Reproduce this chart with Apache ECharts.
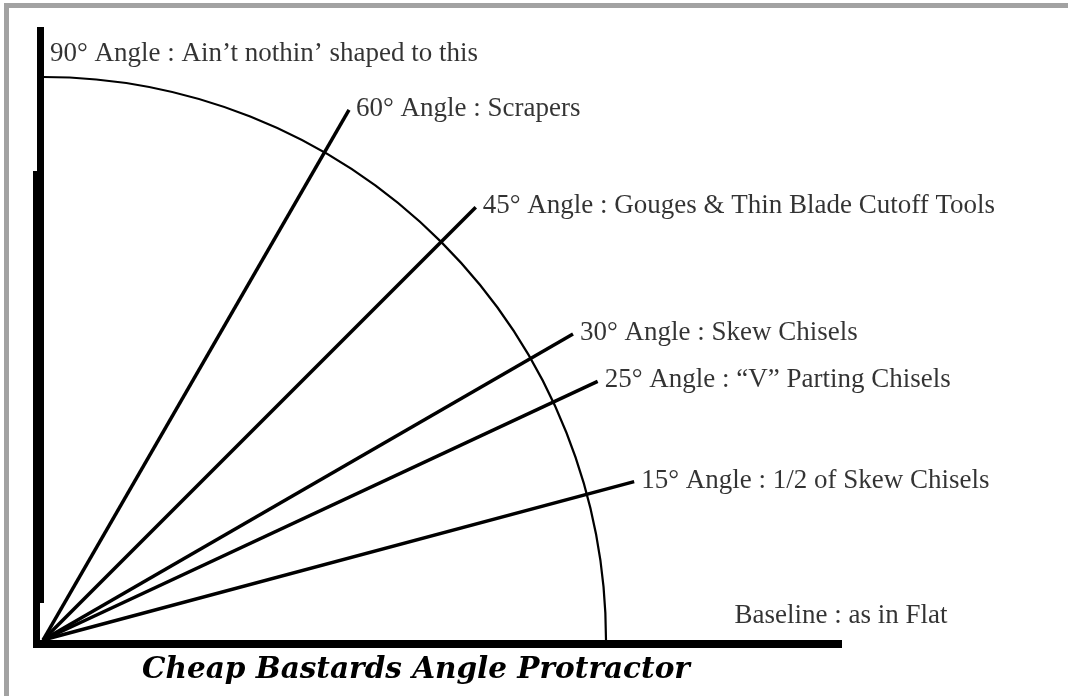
<!DOCTYPE html>
<html>
<head>
<meta charset="utf-8">
<script src="https://cdn.jsdelivr.net/npm/echarts@6/dist/echarts.min.js"></script>
<style>
  html, body { margin: 0; padding: 0; background: #fff; }
  #chart { width: 1068px; height: 696px; }
</style>
</head>
<body>
<div id="chart"></div>
<script>
// ---- data ----
const rayAngles = [60, 45, 30, 25, 15];
const rayReach = 612;
const rayLabels = [
  '60° Angle : Scrapers',
  '45° Angle : Gouges & Thin Blade Cutoff Tools',
  '30° Angle : Skew Chisels',
  '25° Angle : “V” Parting Chisels',
  '15° Angle : 1/2 of Skew Chisels'
];
const verticalAngle = 90;
const verticalLabel = '90° Angle : Ain’t nothin’ shaped to this';
const verticalLabelReach = 587;
const baselineAngle = 0;
const baselineLabel = 'Baseline : as in Flat';
const baselineLabelReach = 798;
const arcRadius = 563;
const arcSpan = [0, 90];
const titleText = 'Cheap Bastards Angle Protractor';

// ---- chart ----
const chart = echarts.init(document.getElementById('chart'), null, { renderer: 'canvas' });
const FONT = 'Liberation Serif';
const hiddenAxis = (extra) => Object.assign({
  type: 'value', min: 0, max: 1,
  axisTick: { show: false }, axisLabel: { show: false }, splitLine: { show: false }
}, extra);

const series = [];
rayAngles.forEach((a) => {
  series.push({
    type: 'line', coordinateSystem: 'polar', polarIndex: 0,
    data: [[0, a], [rayReach, a]],
    symbol: 'none', clip: false, silent: true,
    lineStyle: { color: '#000', width: 3.5, cap: 'butt' }
  });
});
series.push({
  type: 'custom', coordinateSystem: 'polar', polarIndex: 0, silent: true, clip: false,
  data: [[arcRadius, arcSpan[0], arcSpan[1]]],
  renderItem: function (params, api) {
    const c = api.coord([0, 0]);
    const p = api.coord([api.value(0), 0]);
    const r = Math.hypot(p[0] - c[0], p[1] - c[1]);
    return {
      type: 'arc',
      shape: {
        cx: c[0], cy: c[1], r: r,
        startAngle: -api.value(2) * Math.PI / 180,
        endAngle: -api.value(1) * Math.PI / 180,
        clockwise: true
      },
      style: { stroke: '#000', fill: null, lineWidth: 2.2 }
    };
  }
});
const labelStyle = { show: true, color: '#000', fontFamily: FONT, fontSize: 27 };
const labelData = rayAngles.map((a, i) => ({
  value: [rayReach, a],
  label: Object.assign({}, labelStyle, { position: 'right', distance: 7, offset: [0, -1], formatter: rayLabels[i] })
}));
labelData.push({
  value: [verticalLabelReach, verticalAngle],
  label: Object.assign({}, labelStyle, { position: 'right', distance: 7, offset: [0, 1], formatter: verticalLabel })
});
labelData.push({
  value: [baselineLabelReach, baselineAngle],
  label: Object.assign({}, labelStyle, { position: 'top', distance: 11, formatter: baselineLabel })
});
series.push({
  type: 'scatter', coordinateSystem: 'polar', polarIndex: 0, silent: true, clip: false,
  symbolSize: 0, itemStyle: { color: 'transparent' },
  data: labelData
});

const barLine = (w) => ({ show: true, onZero: false, lineStyle: { color: '#000', width: w, cap: 'butt' } });

chart.setOption({
  animation: false,
  backgroundColor: '#fff',
  title: {
    text: titleText, left: 137, top: 650,
    textStyle: { fontFamily: 'DejaVu Serif', fontStyle: 'italic', fontWeight: 'bold', fontSize: 29.5, color: '#000' }
  },
  graphic: [
    { type: 'rect', shape: { x: 4, y: 3, width: 1064, height: 5 }, style: { fill: '#a2a2a2' }, silent: true },
    { type: 'rect', shape: { x: 4, y: 3, width: 5, height: 693 }, style: { fill: '#a2a2a2' }, silent: true }
  ],
  // the protractor's vertical and baseline are drawn as axis lines
  grid: [
    { left: 40.5, top: 27, bottom: 93, right: 1000, containLabel: false },
    { left: 36.5, top: 171, bottom: 48, right: 1000, containLabel: false },
    { left: 33, top: 600, bottom: 52, right: 226, containLabel: false }
  ],
  xAxis: [
    hiddenAxis({ gridIndex: 0, axisLine: { show: false } }),
    hiddenAxis({ gridIndex: 1, axisLine: { show: false } }),
    hiddenAxis({ gridIndex: 2, axisLine: barLine(8) })
  ],
  yAxis: [
    hiddenAxis({ gridIndex: 0, axisLine: barLine(7) }),
    hiddenAxis({ gridIndex: 1, axisLine: barLine(7) }),
    hiddenAxis({ gridIndex: 2, axisLine: { show: false } })
  ],
  polar: { center: [43, 640], radius: 800 },
  radiusAxis: { min: 0, max: 800, show: false },
  angleAxis: { min: 0, max: 360, startAngle: 0, clockwise: false, show: false },
  series: series
});
</script>
</body>
</html>
